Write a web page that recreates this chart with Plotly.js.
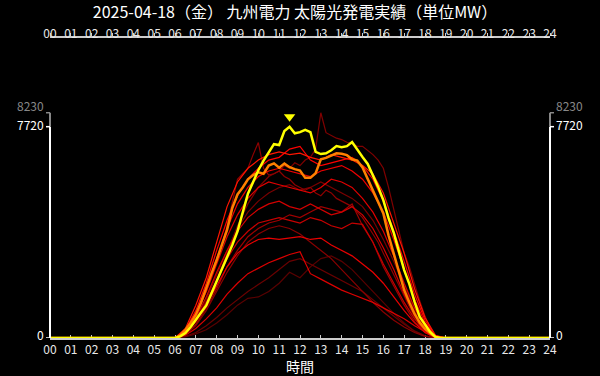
<!DOCTYPE html>
<html>
<head>
<meta charset="utf-8">
<script src="https://cdn.plot.ly/plotly-3.0.1.min.js"></script>
<style>html,body{margin:0;padding:0;background:#000;}#chart{width:600px;height:376px;}</style>
</head>
<body>
<div id="chart"></div>
<script>
// ---- data ----
const chartTitle = "2025-04-18（金） 九州電力 太陽光発電実績（単位MW）";
const xTitle = "時間";
const hourTicks = [0,1,2,3,4,5,6,7,8,9,10,11,12,13,14,15,16,17,18,19,20,21,22,23,24];
const hourLabels = ["00","01","02","03","04","05","06","07","08","09","10","11","12","13","14","15","16","17","18","19","20","21","22","23","24"];

// 15-minute grid
const hoursQ = [0,5.75,6,6.25,6.5,6.75,7,7.25,7.5,7.75,8,8.25,8.5,8.75,9,9.25,9.5,9.75,10,10.25,10.5,10.75,11,11.25,11.5,11.75,12,12.25,12.5,12.75,13,13.25,13.5,13.75,14,14.25,14.5,14.75,15,15.25,15.5,15.75,16,16.25,16.5,16.75,17,17.25,17.5,17.75,18,18.25,18.5,18.75,19,24];
// 30-minute grid
const hoursH = [0,6,6.5,7,7.5,8,8.5,9,9.5,10,10.5,11,11.5,12,12.5,13,13.5,14,14.5,15,15.5,16,16.5,17,17.5,18,18.5,19,24];

// today (yellow)
const today = [0,0,0,60,180,400,680,930,1190,1620,2090,2500,2920,3400,3900,4600,5270,5700,6130,6480,6800,7080,7050,7560,7720,7480,7520,7600,7520,6800,6720,6750,6860,7010,6970,7010,7160,6870,6610,6360,5960,5520,5040,4380,3840,3110,2480,1970,1320,770,480,220,40,0,0,0];
// highlighted day (orange)
const prevDay = [0,0,0,100,300,550,850,1300,1850,2350,2850,3400,3950,4750,5250,5500,5800,5950,6050,6000,6300,6380,6220,6370,6240,6170,6120,5850,5850,6020,6530,6580,6680,6750,6730,6680,6530,6480,6230,5800,5400,5000,4550,3750,3100,2450,1750,1300,880,560,330,170,40,0,0,0];
// past days on 15-min grid
const pastS1 = [0,0,0,60,200,400,650,950,1300,1700,2100,2600,3100,3600,4100,4500,4900,5200,5500,5700,5900,6000,6100,6300,6200,6400,6300,6500,6600,6900,8230,7500,7400,7300,7250,7150,7100,7000,7000,6850,6700,6500,6200,5500,4700,3800,3100,2600,1950,1350,800,350,80,0,0,0];
const pastS2 = [0,0,0,80,250,500,850,1250,1700,2200,2800,3400,4100,4900,5800,6000,6200,6700,7140,6200,5950,6000,6100,5900,5800,5600,5500,5400,5500,5300,5200,5400,5300,5100,5000,4900,4800,4600,4400,4100,3800,3500,3100,2700,2300,1900,1500,1100,750,450,250,100,20,0,0,0];
// past days on 30-min grid
const past01 = [0,0,350,1200,2200,3500,4800,5700,6200,6500,6700,6800,6700,6750,6600,6500,6700,6600,6500,6300,6000,5300,4200,3100,1800,750,100,0,0];
const past02 = [0,0,300,1000,2000,3200,4300,5200,5800,6200,6500,6600,6900,7000,6500,6300,6400,6500,6600,6300,5800,5000,3900,2800,1600,650,80,0,0];
const past03 = [0,0,280,900,1800,2900,4000,4900,5500,5900,6100,6200,6100,6000,5900,6100,6200,6300,6100,5800,5300,4600,3600,2500,1400,550,70,0,0];
const past04 = [0,0,250,850,1700,2700,3700,4500,5100,5500,5700,5600,5500,5400,5300,5500,5800,5700,5500,5100,4600,3900,3000,2000,1100,400,50,0,0];
const past05 = [0,0,220,750,1500,2400,3200,3900,4400,4700,4900,5000,4800,4700,4900,4700,4500,4600,4800,4500,4000,3300,2500,1600,850,300,40,0,0];
const past06 = [0,0,200,650,1300,2100,2900,3500,3900,4200,4300,4400,4300,4200,4400,4300,4100,4000,4200,4150,3500,2700,2000,1300,700,250,30,0,0];
const past07 = [0,0,180,600,1200,1900,2600,3100,3400,3600,3650,3600,3650,3700,3600,3650,3400,3200,3000,2700,2400,2000,1500,1000,550,200,20,0,0];
const past08 = [0,0,100,350,700,1100,1600,2000,2350,2550,2750,2900,3050,3150,2350,2150,1950,1750,1600,1450,1300,1100,900,700,450,230,50,0,0];
const past09 = [0,0,60,200,450,750,1100,1400,1700,1950,2200,2500,2800,2900,2700,2500,2300,2100,1900,1700,1400,1100,800,500,250,80,10,0,0];
const past10 = [0,0,40,150,300,550,850,1200,1450,1500,1700,2000,2400,2200,2600,2900,3000,2800,2500,2100,1700,1300,900,550,250,80,10,0,0];
const past11 = [0,0,120,450,1000,1700,2400,3000,3500,3800,4000,4100,4000,3800,3500,3200,2900,2500,2100,1700,1300,950,650,400,200,60,10,0,0];
const past12 = [0,0,150,500,1100,1800,2600,3200,3700,4000,4200,4300,4500,4400,4600,4800,4700,4600,4900,4100,3500,2600,1900,1200,600,200,20,0,0];
const past13 = [0,0,200,700,1400,2300,3200,4000,4600,5000,5300,5500,5600,5400,5500,5700,5500,5300,5100,4800,4300,3600,2800,1900,1000,350,40,0,0];

// ---- styling / traces ----
const reds = [
  {x:hoursH, y:past10, c:'#5a0000'},
  {x:hoursH, y:past09, c:'#6a0000'},
  {x:hoursH, y:past13, c:'#7a0000'},
  {x:hoursQ, y:pastS1, c:'#800000'},
  {x:hoursH, y:past11, c:'#8a0000'},
  {x:hoursQ, y:pastS2, c:'#900000'},
  {x:hoursH, y:past12, c:'#a00000'},
  {x:hoursH, y:past06, c:'#c80000'},
  {x:hoursH, y:past05, c:'#d40000'},
  {x:hoursH, y:past08, c:'#dd0000'},
  {x:hoursH, y:past04, c:'#e00000'},
  {x:hoursH, y:past07, c:'#e80000'},
  {x:hoursH, y:past03, c:'#f00000'},
  {x:hoursH, y:past02, c:'#ff0000'},
  {x:hoursH, y:past01, c:'#ff1500'}
];
const traces = reds.map(r => ({x:r.x, y:r.y, type:'scatter', mode:'lines', line:{color:r.c, width:1.2}, hoverinfo:'skip'}));
traces.push({x:hoursQ, y:prevDay, type:'scatter', mode:'lines', line:{color:'#ff8000', width:2.5}, hoverinfo:'skip'});
traces.push({x:hoursQ, y:today, type:'scatter', mode:'lines', line:{color:'#ffff00', width:2.5}, hoverinfo:'skip'});

const yTop = 10960, plotH = 300;
const todayMax = Math.max(...today);
const peakX = hoursQ[today.indexOf(todayMax)];
const allMax = Math.max(todayMax, prevDay.reduce((a,b)=>Math.max(a,b),0), ...reds.map(r=>Math.max(...r.y)));
traces.push({x:[peakX], y:[todayMax + 10*yTop/plotH], type:'scatter', mode:'markers',
  marker:{symbol:'triangle-down', size:10, color:'#ffff00'}, hoverinfo:'skip'});
// dummy trace to activate top axis
traces.push({x:[0,24], y:[null,null], xaxis:'x2', type:'scatter', mode:'lines', hoverinfo:'skip', showlegend:false});

const axisX = {range:[0,24], tickvals:hourTicks, ticktext:hourLabels, showgrid:false, zeroline:false,
  showline:true, linecolor:'#cccccc', linewidth:2, tickcolor:'#cccccc', ticklen:3, tickwidth:1,
  tickfont:{size:12, color:'#e8e8e8'}, fixedrange:true, layer:'below traces'};

const shapes = [];
const ann = [];
[[0,-1],[1,1]].forEach(([px,dir])=>{
  shapes.push({type:'line', xref:'paper', yref:'y', x0:px, x1:px, y0:0, y1:todayMax, line:{color:'#ffffff', width:2}});
  shapes.push({type:'line', xref:'paper', yref:'y', x0:px, x1:px, y0:todayMax, y1:allMax, line:{color:'#888888', width:2}});
  [[0,'#ffffff',4],[todayMax,'#ffffff',2],[allMax,'#888888',7]].forEach(([v,col,ys])=>{
    shapes.push({type:'line', xref:'paper', yref:'y', xsizemode:'pixel', xanchor:px, x0:0, x1:4*dir, y0:v, y1:v, line:{color:col, width:1.5}});
    ann.push({xref:'paper', yref:'y', x:px, y:v, text:String(v), showarrow:false,
      xanchor: dir<0?'right':'left', xshift: 4*dir, yshift:ys, font:{size:12, color:col}});
  });
});

const layout = {
  width:600, height:376,
  paper_bgcolor:'#000000', plot_bgcolor:'#000000',
  margin:{l:50, r:50, t:38, b:38},
  showlegend:false,
  font:{family:'"Noto Sans CJK JP", "Noto Sans", sans-serif', color:'#ffffff', size:12},
  title:{text:chartTitle, font:{size:16, color:'#ffffff'}, x:0.49, xanchor:'center', xref:'paper', y:1-12.8/376, yanchor:'middle', yref:'container'},
  xaxis:Object.assign({}, axisX, {side:'bottom', ticks:'inside', anchor:'y',
    title:{text:xTitle, font:{size:14, color:'#ffffff'}, standoff:6}}),
  xaxis2:Object.assign({}, axisX, {side:'top', ticks:'outside', overlaying:'x', anchor:'y', ticklabelstandoff:-10}),
  yaxis:{range:[0,yTop], showgrid:false, zeroline:false, showline:false, showticklabels:false, ticks:'', fixedrange:true},
  shapes:shapes,
  annotations:ann
};
Plotly.newPlot('chart', traces, layout, {displayModeBar:false, staticPlot:true});
</script>
</body>
</html>
